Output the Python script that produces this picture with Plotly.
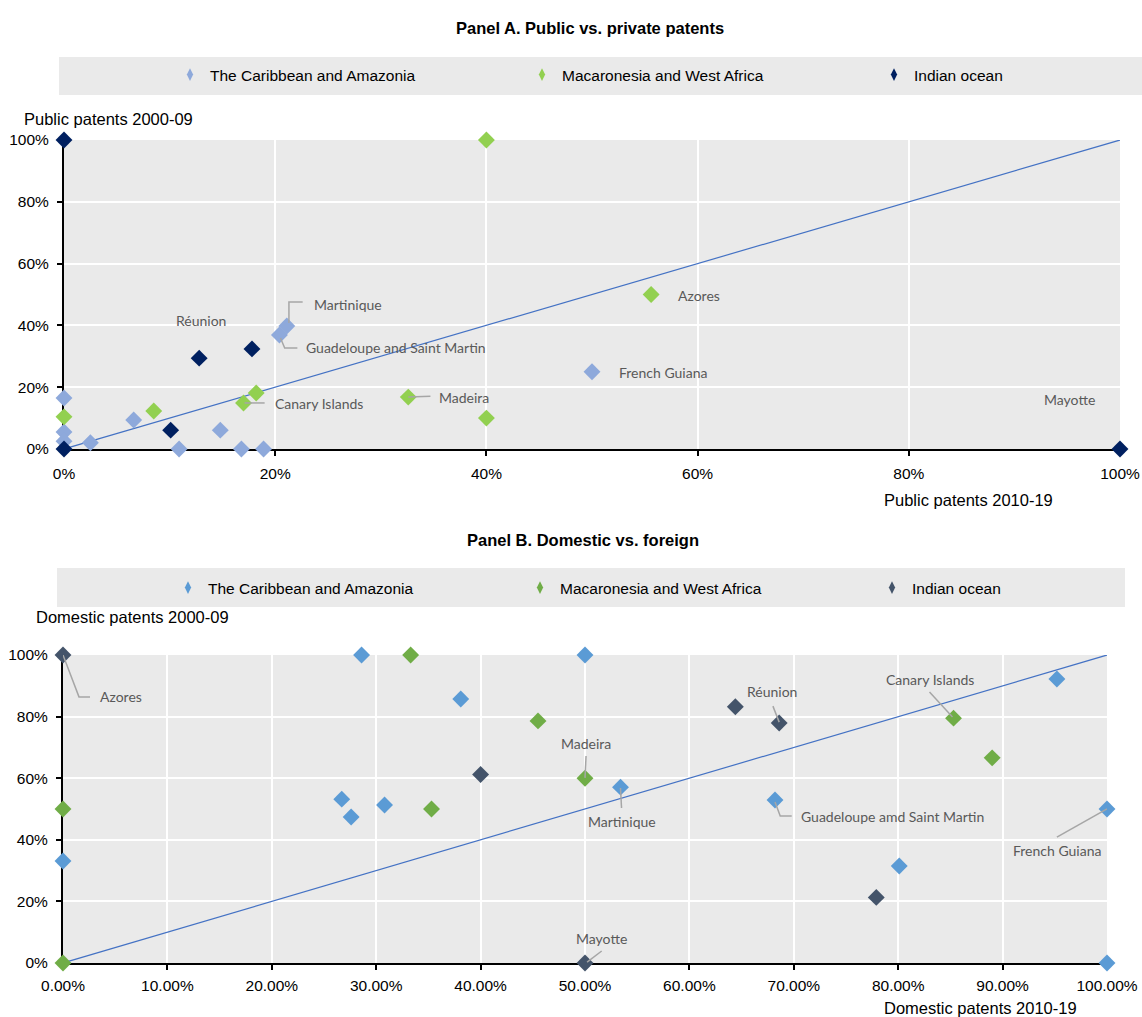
import plotly.graph_objects as go

# ---------------- Panel A: public vs. private patents ----------------
a_carib_x = [0.0, 0.0, 0.0, 0.025, 0.066, 0.109, 0.148, 0.168, 0.189, 0.204, 0.211, 0.50]
a_carib_y = [0.165, 0.055, 0.025, 0.02, 0.094, 0.0, 0.061, 0.0, 0.0, 0.369, 0.398, 0.25]
a_maca_x = [0.0, 0.085, 0.170, 0.182, 0.326, 0.40, 0.40, 0.556]
a_maca_y = [0.104, 0.123, 0.149, 0.181, 0.168, 0.10, 1.0, 0.50]
a_ind_x = [0.0, 0.0, 0.128, 0.178, 0.101, 1.0]
a_ind_y = [1.0, 0.0, 0.294, 0.324, 0.061, 0.0]

# ---------------- Panel B: domestic vs. foreign ----------------
b_carib_x = [0.0, 0.286, 0.267, 0.276, 0.308, 0.381, 0.50, 0.534, 0.682, 0.801, 0.952, 1.0, 1.0]
b_carib_y = [0.331, 1.0, 0.532, 0.474, 0.513, 0.857, 1.0, 0.571, 0.529, 0.315, 0.922, 0.50, 0.0]
b_maca_x = [0.0, 0.0, 0.333, 0.455, 0.353, 0.50, 0.853, 0.89]
b_maca_y = [0.50, 0.0, 1.0, 0.786, 0.50, 0.60, 0.795, 0.666]
b_ind_x = [0.0, 0.40, 0.644, 0.686, 0.779, 0.50]
b_ind_y = [1.0, 0.612, 0.832, 0.779, 0.213, 0.0]

groups = ["The Caribbean and Amazonia", "Macaronesia and West Africa", "Indian ocean"]
colors_a = ["#8EA9DB", "#92D050", "#002060"]
colors_b = ["#5B9BD5", "#70AD47", "#44546A"]

ticks_a = [0, 0.2, 0.4, 0.6, 0.8, 1.0]
tick_text_a = ["0%", "20%", "40%", "60%", "80%", "100%"]
ticks_b_x = [i / 10 for i in range(11)]
tick_text_b_x = [f"{i * 10:.2f}%" for i in range(11)]

# Point labels: (text, x, y, xanchor) in each panel's data space
labels_a = [
    ("Réunion", 0.130, 0.417, "center"),
    ("Martinique", 0.235, 0.469, "left"),
    ("Guadeloupe and Saint Martin", 0.227, 0.327, "left"),
    ("Canary Islands", 0.198, 0.146, "left"),
    ("Madeira", 0.353, 0.168, "left"),
    ("Azores", 0.580, 0.498, "left"),
    ("French Guiana", 0.524, 0.246, "left"),
    ("Mayotte", 0.926, 0.159, "left"),
]
leaders_a = [
    [(0.213, 0.408), (0.213, 0.476), (0.226, 0.476)],
    [(0.205, 0.359), (0.209, 0.327), (0.221, 0.327)],
    [(0.171, 0.149), (0.190, 0.149)],
    [(0.326, 0.168), (0.347, 0.171)],
]
labels_b = [
    ("Azores", 0.0335, 0.864, "left"),
    ("Madeira", 0.501, 0.714, "center"),
    ("Martinique", 0.535, 0.461, "center"),
    ("Mayotte", 0.516, 0.078, "center"),
    ("Réunion", 0.679, 0.880, "center"),
    ("Canary Islands", 0.830, 0.922, "center"),
    ("Guadeloupe amd Saint Martin", 0.705, 0.477, "left"),
    ("French Guiana", 0.952, 0.364, "center"),
]
leaders_b = [
    [(0.0, 1.0), (0.0153, 0.864), (0.0259, 0.864)],
    [(0.501, 0.672), (0.500, 0.601)],
    [(0.534, 0.568), (0.535, 0.503)],
    [(0.502, 0.003), (0.516, 0.039)],
    [(0.680, 0.834), (0.686, 0.782)],
    [(0.830, 0.880), (0.852, 0.799)],
    [(0.682, 0.523), (0.687, 0.477), (0.698, 0.477)],
    [(0.952, 0.409), (1.0, 0.50)],
]

W, H = 1142, 1017
px = lambda v: v / W
py = lambda v: 1 - v / H

FONT = "Liberation Sans, Arial, sans-serif"
LABEL_FONT = dict(family="Lato, Calibri, sans-serif", size=14, color="#595959")
legend_widths = [307, 307, 100]

fig = go.Figure()

# diagonal 45-degree reference lines
fig.add_trace(go.Scatter(x=[0, 1], y=[0, 1], mode="lines", line=dict(color="#4472C4", width=1.2),
                         xaxis="x", yaxis="y", showlegend=False, hoverinfo="skip", cliponaxis=False))
fig.add_trace(go.Scatter(x=[-0.01, 1.01], y=[-0.01, 1.01], mode="lines", line=dict(color="#4472C4", width=1.2),
                         xaxis="x2", yaxis="y2", showlegend=False, hoverinfo="skip", cliponaxis=False))

panel_a = [(a_carib_x, a_carib_y), (a_maca_x, a_maca_y), (a_ind_x, a_ind_y)]
panel_b = [(b_carib_x, b_carib_y), (b_maca_x, b_maca_y), (b_ind_x, b_ind_y)]

for (xs, ys), name, col in zip(panel_a, groups, colors_a):
    fig.add_trace(go.Scatter(x=xs, y=ys, mode="markers", name=name, xaxis="x", yaxis="y",
                             marker=dict(symbol="diamond", size=13, color=col),
                             showlegend=False, cliponaxis=False))
for (xs, ys), name, col in zip(panel_b, groups, colors_b):
    fig.add_trace(go.Scatter(x=xs, y=ys, mode="markers", name=name, xaxis="x2", yaxis="y2",
                             marker=dict(symbol="diamond", size=13, color=col),
                             showlegend=False, cliponaxis=False))

# legend entries
for name, col, lw in zip(groups, colors_a, legend_widths):
    fig.add_trace(go.Scatter(x=[None], y=[None], mode="markers", name=name, xaxis="x", yaxis="y",
                             marker=dict(symbol="diamond-tall", size=9, color=col),
                             legend="legend", legendwidth=lw))
for name, col, lw in zip(groups, colors_b, legend_widths):
    fig.add_trace(go.Scatter(x=[None], y=[None], mode="markers", name=name, xaxis="x2", yaxis="y2",
                             marker=dict(symbol="diamond-tall", size=9, color=col),
                             legend="legend2", legendwidth=lw))

axis_common = dict(
    showgrid=True, gridcolor="white", gridwidth=2,
    showline=True, linecolor="black", linewidth=2,
    ticks="outside", ticklen=5, tickcolor="black", tickwidth=1.5,
    tickfont=dict(family=FONT, size=15.5, color="black"),
    zeroline=False, layer="below traces", fixedrange=True,
)

legend_common = dict(orientation="h", xanchor="left", yanchor="middle",
                     bgcolor="rgba(0,0,0,0)", borderwidth=0,
                     font=dict(family=FONT, size=15.5, color="black"), itemclick=False)

fig.update_layout(
    width=W, height=H,
    margin=dict(l=0, r=0, t=0, b=0, autoexpand=False),
    paper_bgcolor="white",
    plot_bgcolor="#EAEAEA",
    xaxis=dict(domain=[px(64), px(1120)], range=[0, 1], tickvals=ticks_a, ticktext=tick_text_a,
               anchor="y", ticklabelstandoff=4, **axis_common),
    yaxis=dict(domain=[py(449), py(140)], range=[0, 1], tickvals=ticks_a, ticktext=tick_text_a,
               anchor="x", ticklabelstandoff=5, **axis_common),
    xaxis2=dict(domain=[px(63), px(1107)], range=[0, 1], tickvals=ticks_b_x, ticktext=tick_text_b_x,
                anchor="y2", ticklabelstandoff=2, **axis_common),
    yaxis2=dict(domain=[py(963), py(655)], range=[0, 1], tickvals=ticks_a, ticktext=tick_text_a,
                anchor="x2", ticklabelstandoff=5, **axis_common),
    legend=dict(x=px(170), y=py(75), **legend_common),
    legend2=dict(x=px(168), y=py(588), **legend_common),
)

shapes = [
    dict(type="rect", xref="paper", yref="paper", x0=px(59), x1=px(1142), y0=py(95), y1=py(57),
         fillcolor="#EAEAEA", line=dict(width=0), layer="below"),
    dict(type="rect", xref="paper", yref="paper", x0=px(57), x1=px(1125), y0=py(607), y1=py(568),
         fillcolor="#EAEAEA", line=dict(width=0), layer="below"),
]
for xr, yr, leaders in (("x", "y", leaders_a), ("x2", "y2", leaders_b)):
    for pts in leaders:
        path = "M " + " L ".join(f"{x},{y}" for x, y in pts)
        shapes.append(dict(type="path", xref=xr, yref=yr, path=path,
                           line=dict(color="#A6A6A6", width=1.5), layer="above"))

annotations = []
for xr, yr, labels in (("x", "y", labels_a), ("x2", "y2", labels_b)):
    for text, x, y, anchor in labels:
        annotations.append(dict(text=text, x=x, y=y, xref=xr, yref=yr, xanchor=anchor, yanchor="middle",
                                showarrow=False, font=LABEL_FONT))

title_font = dict(family=FONT, size=16.5, color="black")
plain_font = dict(family=FONT, size=16.5, color="black")
annotations += [
    dict(text="<b>Panel A. Public vs. private patents</b>", x=px(590), y=py(28), xref="paper", yref="paper",
         xanchor="center", yanchor="middle", showarrow=False, font=title_font),
    dict(text="<b>Panel B. Domestic vs. foreign</b>", x=px(583), y=py(540), xref="paper", yref="paper",
         xanchor="center", yanchor="middle", showarrow=False, font=title_font),
    dict(text="Public patents 2000-09", x=px(22), y=py(119), xref="paper", yref="paper",
         xanchor="left", yanchor="middle", showarrow=False, font=plain_font),
    dict(text="Public patents 2010-19", x=px(968), y=py(500), xref="paper", yref="paper",
         xanchor="center", yanchor="middle", showarrow=False, font=plain_font),
    dict(text="Domestic patents 2000-09", x=px(34), y=py(617), xref="paper", yref="paper",
         xanchor="left", yanchor="middle", showarrow=False, font=plain_font),
    dict(text="Domestic patents 2010-19", x=px(980), y=py(1008), xref="paper", yref="paper",
         xanchor="center", yanchor="middle", showarrow=False, font=plain_font),
]

fig.update_layout(shapes=shapes, annotations=annotations)
fig.write_html("out.html")
